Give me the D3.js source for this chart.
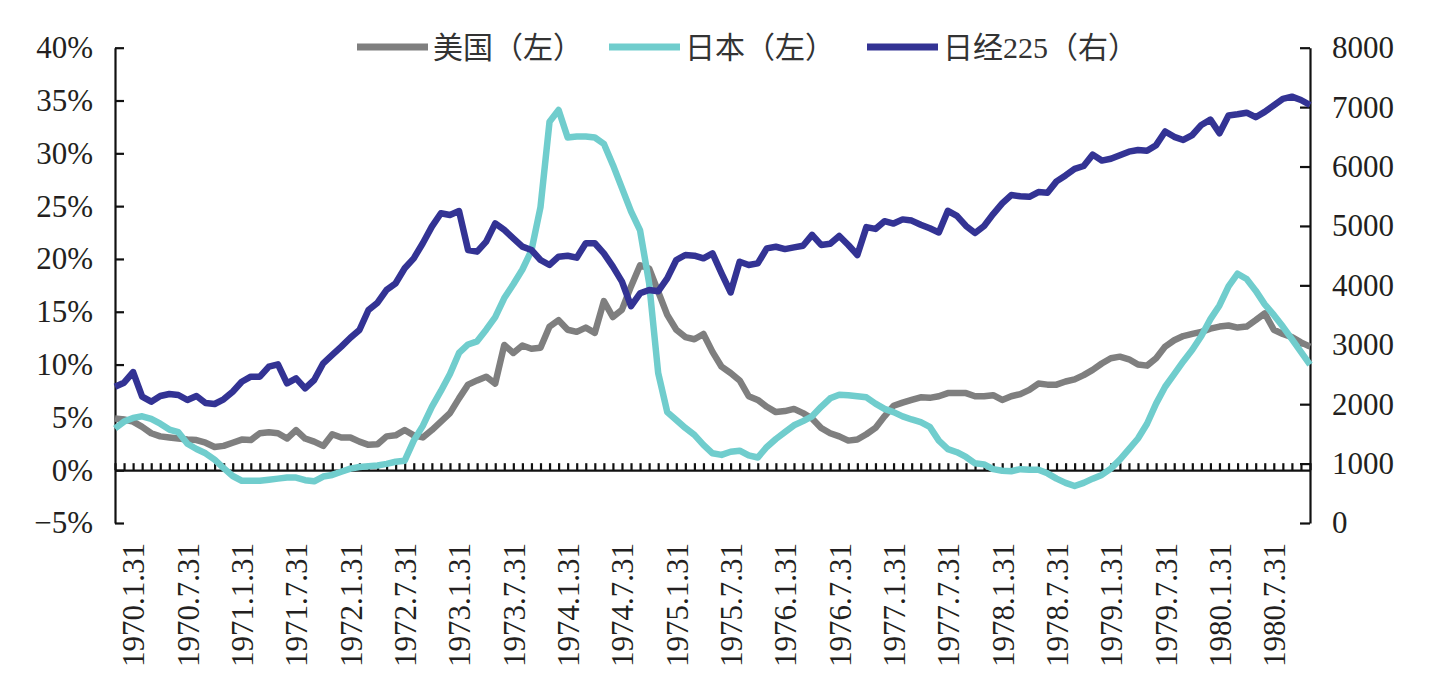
<!DOCTYPE html>
<html>
<head>
<meta charset="utf-8">
<script src="https://cdn.jsdelivr.net/npm/d3@7"></script>
<style>
  body { margin: 0; background: #fff; }
  svg text { fill: #231f20; }
</style>
</head>
<body>
<div id="chart"></div>
<script>
// monthly data, 1969.11 .. 1980.11
var usCpi = [4.9,4.8,4.6,4.1,3.5,3.2,3.1,3.0,2.9,2.85,
    2.6,2.2,2.3,2.6,2.9,2.85,3.5,3.6,3.5,3.0,
    3.8,3.0,2.7,2.3,3.4,3.1,3.1,2.7,2.4,2.45,
    3.2,3.3,3.8,3.3,3.1,3.8,4.6,5.4,6.8,8.1,
    8.5,8.85,8.2,11.85,11.1,11.8,11.5,11.6,13.6,14.2,
    13.3,13.1,13.5,13.0,16.0,14.5,15.2,17.4,19.4,19.1,
    16.9,14.7,13.3,12.6,12.4,12.9,11.2,9.8,9.2,8.5,
    7.0,6.65,6.0,5.5,5.6,5.8,5.4,4.9,4.0,3.5,
    3.2,2.8,2.9,3.4,4.0,5.1,6.1,6.4,6.65,6.9,
    6.85,7.0,7.3,7.3,7.3,7.0,7.0,7.1,6.65,7.0,
    7.2,7.6,8.2,8.1,8.1,8.4,8.6,9.0,9.5,10.1,
    10.6,10.75,10.5,10.0,9.9,10.6,11.7,12.3,12.7,12.9,
    13.1,13.4,13.6,13.7,13.5,13.6,14.2,14.85,13.3,12.9,
    12.6,12.1,11.7];

var japanCpi = [3.95,4.6,4.95,5.1,4.85,4.4,3.85,3.6,2.5,2.0,
    1.6,1.0,0.2,-0.55,-1.0,-1.0,-1.0,-0.9,-0.8,-0.7,
    -0.7,-0.95,-1.05,-0.6,-0.45,-0.15,0.15,0.3,0.37,0.45,
    0.6,0.8,0.9,2.8,4.2,6.0,7.5,9.1,11.1,11.9,
    12.2,13.3,14.5,16.3,17.6,19.0,20.8,24.9,33.0,34.1,
    31.5,31.6,31.6,31.5,30.9,28.9,26.7,24.5,22.7,17.7,
    9.2,5.5,4.75,4.0,3.35,2.4,1.6,1.45,1.75,1.85,
    1.4,1.2,2.2,2.95,3.6,4.25,4.65,5.1,6.0,6.8,
    7.15,7.1,7.0,6.9,6.3,5.8,5.5,5.1,4.8,4.55,
    4.1,2.8,2.0,1.7,1.25,0.65,0.55,0.1,-0.05,-0.1,
    0.1,0.05,0.05,-0.3,-0.8,-1.2,-1.5,-1.2,-0.8,-0.45,
    0.15,1.0,2.0,3.0,4.4,6.3,7.9,9.1,10.3,11.4,
    12.7,14.3,15.6,17.4,18.6,18.1,17.0,15.7,14.7,13.6,
    12.4,11.2,10.0];

var nikkei = [2294,2362,2540,2126,2042,2137,2171,2154,2070,2137,
    2020,2003,2082,2210,2378,2463,2463,2631,2671,2351,
    2435,2267,2407,2688,2828,2968,3119,3249,3585,3708,
    3922,4035,4287,4455,4708,4988,5213,5184,5250,4595,
    4567,4735,5044,4932,4792,4651,4595,4427,4343,4483,
    4499,4466,4708,4708,4539,4315,4063,3650,3866,3922,
    3900,4118,4427,4511,4500,4455,4539,4203,3880,4398,
    4343,4370,4623,4650,4610,4640,4667,4850,4680,4700,
    4831,4680,4511,4980,4950,5080,5040,5110,5090,5020,
    4960,4890,5255,5170,5000,4880,5000,5200,5380,5520,
    5500,5490,5570,5560,5750,5850,5960,6009,6200,6100,
    6130,6190,6250,6278,6265,6360,6590,6500,6447,6530,
    6700,6790,6560,6860,6880,6906,6830,6920,7030,7140,
    7176,7120,7036];

var tickLabels = ["1970.1.31","1970.7.31","1971.1.31","1971.7.31","1972.1.31","1972.7.31",
    "1973.1.31","1973.7.31","1974.1.31","1974.7.31","1975.1.31","1975.7.31",
    "1976.1.31","1976.7.31","1977.1.31","1977.7.31","1978.1.31","1978.7.31",
    "1979.1.31","1979.7.31","1980.1.31","1980.7.31"];

var leftTicks = [-5, 0, 5, 10, 15, 20, 25, 30, 35, 40];
var rightTicks = [0, 1000, 2000, 3000, 4000, 5000, 6000, 7000, 8000];

var seriesNames = ["美国（左）", "日本（左）", "日经225（右）"];
var seriesColors = ["#7f7f7f", "#70cdcd", "#333394"];

// month-end category labels
var fmt = d3.utcFormat("%Y.%-m.%-d");
var categories = d3.utcMonths(new Date(Date.UTC(1969, 10, 1)), new Date(Date.UTC(1980, 11, 1)))
    .map(function (m) { return fmt(d3.utcDay.offset(d3.utcMonth.offset(m, 1), -1)); });

var width = 1429, height = 691;
var plotLeft = 115, plotRight = 1310, plotTop = 47.7, plotBottom = 523;
var serif = "'Liberation Serif', 'Times New Roman', serif";
var cjk = "'Liberation Serif', 'Noto Sans CJK SC', serif";

var svg = d3.select("#chart").append("svg")
    .attr("width", width)
    .attr("height", height);

var x = d3.scalePoint().domain(categories).range([plotLeft, plotRight]);
var yL = d3.scaleLinear().domain([-5, 40]).range([plotBottom, plotTop]);
var yR = d3.scaleLinear().domain([0, 8000]).range([plotBottom, plotTop]);

// left axis
var gL = svg.append("g")
    .attr("transform", "translate(" + plotLeft + ",0)")
    .call(d3.axisLeft(yL).tickValues(leftTicks)
        .tickSizeInner(-9).tickSizeOuter(0).tickPadding(22)
        .tickFormat(function (d) { return d3.format("d")(d) + "%"; }));

// right axis
var gR = svg.append("g")
    .attr("transform", "translate(" + plotRight + ",0)")
    .call(d3.axisRight(yR).tickValues(rightTicks)
        .tickSizeInner(-10).tickSizeOuter(0).tickPadding(22)
        .tickFormat(d3.format("d")));

// category axis on the zero line, monthly ticks
var gX = svg.append("g")
    .attr("transform", "translate(0," + yL(0) + ")")
    .call(d3.axisTop(x).tickSizeInner(7).tickSizeOuter(0).tickFormat(""));

// rotated date labels below the plot
var gLab = svg.append("g")
    .attr("transform", "translate(0," + plotBottom + ")")
    .call(d3.axisBottom(x).tickValues(tickLabels).tickSize(0));
gLab.select(".domain").remove();
gLab.selectAll("text")
    .attr("transform", "rotate(-90)")
    .attr("x", -20)
    .attr("y", 0)
    .attr("dy", "0.35em")
    .style("text-anchor", "end");

[gL, gR, gX, gLab].forEach(function (g) {
    g.attr("font-family", null).attr("font-size", null);
    g.selectAll("text")
        .style("font-family", serif)
        .style("font-size", "31px")
        .style("fill", "#231f20");
    g.selectAll("line, path")
        .attr("stroke", "#111")
        .attr("stroke-width", 2.2);
});

// series
var series = [
    { values: usCpi, y: yL },
    { values: japanCpi, y: yL },
    { values: nikkei, y: yR }
];

series.forEach(function (s, k) {
    var line = d3.line()
        .x(function (d, i) { return x(categories[i]); })
        .y(function (d) { return s.y(d); });
    svg.append("path")
        .datum(s.values)
        .attr("fill", "none")
        .attr("stroke", seriesColors[k])
        .attr("stroke-width", 6.5)
        .attr("stroke-linejoin", "round")
        .attr("d", line);
});

// legend
var legendX = [357, 609, 867];
var legend = svg.append("g").classed("legend", true);
seriesNames.forEach(function (name, k) {
    legend.append("line")
        .attr("x1", legendX[k]).attr("x2", legendX[k] + 71)
        .attr("y1", 47).attr("y2", 47)
        .attr("stroke", seriesColors[k])
        .attr("stroke-width", 7);
    legend.append("text")
        .attr("x", legendX[k] + 76)
        .attr("y", 58)
        .style("font-family", cjk)
        .style("font-size", "30px")
        .style("fill", "#333")
        .text(name);
});
</script>
</body>
</html>
